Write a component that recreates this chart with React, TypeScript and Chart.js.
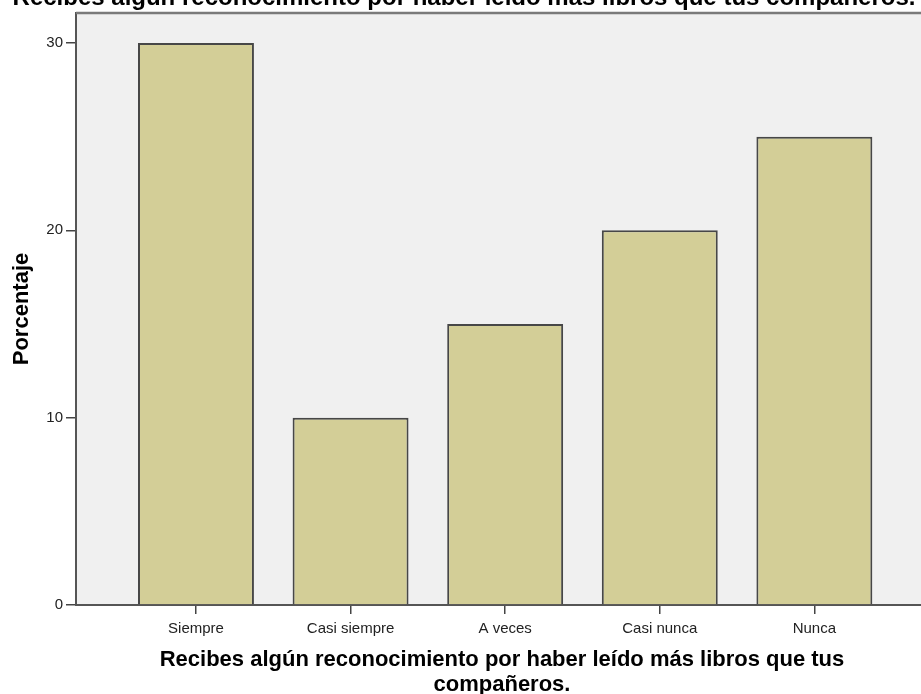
import React, { useEffect, useRef } from "react";
import { Chart, registerables } from "chart.js";

Chart.register(...registerables);

const categories: string[] = ["Siempre", "Casi siempre", "A veces", "Casi nunca", "Nunca"];
const percentages: number[] = [30, 10, 15, 20, 25];
const yTicks: number[] = [0, 10, 20, 30];
const chartTitle = "Recibes algún reconocimiento por haber leído más libros que tus compañeros.";
const xTitleLines: string[] = ["Recibes algún reconocimiento por haber leído más libros que tus", "compañeros."];
const yTitle = "Porcentaje";

const FONT = "'Liberation Sans', Arial, sans-serif";

const plotBg = {
  id: "plotBg",
  beforeDraw(chart: any) {
    const { ctx, chartArea } = chart;
    ctx.save();
    ctx.fillStyle = "#f0f0f0";
    ctx.fillRect(chartArea.left, chartArea.top, chartArea.right - chartArea.left, chartArea.bottom - chartArea.top);
    ctx.restore();
  },
  afterDraw(chart: any) {
    const { ctx, chartArea } = chart;
    ctx.save();
    ctx.strokeStyle = "#7a7a7a";
    ctx.lineWidth = 2.5;
    ctx.beginPath();
    ctx.moveTo(chartArea.left, chartArea.top);
    ctx.lineTo(chartArea.right, chartArea.top);
    ctx.stroke();
    ctx.restore();
  },
};

export default function App() {
  const ref = useRef<HTMLCanvasElement | null>(null);

  useEffect(() => {
    if (!ref.current) return;
    const chart = new Chart(ref.current, {
      type: "bar",
      data: {
        datasets: [
          {
            data: categories.map((c, i) => ({ x: i, y: percentages[i] })),
            backgroundColor: "#d3ce97",
            borderColor: "#474747",
            borderWidth: 2,
            barPercentage: 0.75,
            categoryPercentage: 1,
          },
        ],
      },
      options: {
        responsive: false,
        animation: false,
        devicePixelRatio: 1,
        layout: { padding: 0 },
        plugins: {
          legend: { display: false },
          tooltip: { enabled: false },
          title: {
            display: true,
            text: chartTitle,
            color: "#000",
            font: { family: FONT, size: 24, weight: "bold", lineHeight: 1.2 },
            padding: { top: -15.8, bottom: 0 },
          },
        },
        scales: {
          x: {
            type: "linear",
            offset: false,
            min: -0.776,
            max: 4.735,
            afterBuildTicks: (scale: any) => {
              scale.ticks = categories.map((_c, i) => ({ value: i }));
            },
            afterFit: (scale: any) => {
              scale.height = 89;
            },
            grid: {
              display: true,
              drawOnChartArea: false,
              drawTicks: true,
              tickLength: 9,
              color: "#444",
              lineWidth: 1.5,
              offset: false,
            },
            border: { display: true, color: "#555", width: 2 },
            ticks: {
              autoSkip: false,
              maxRotation: 0,
              padding: 6,
              color: "#222",
              font: { family: FONT, size: 15 },
              callback: (v: any) => categories[Number(v)] ?? "",
            },
            title: {
              display: true,
              text: xTitleLines,
              color: "#000",
              font: { family: FONT, size: 22, weight: "bold", lineHeight: "25px" },
              padding: { top: 0, bottom: -3.5 },
            },
          },
          y: {
            min: 0,
            max: 31.6,
            afterBuildTicks: (scale: any) => {
              scale.ticks = yTicks.map((v) => ({ value: v }));
            },
            afterFit: (scale: any) => {
              scale.width = 76;
            },
            grid: {
              display: true,
              drawOnChartArea: false,
              drawTicks: true,
              tickLength: 10,
              color: "#444",
              lineWidth: 1.5,
            },
            border: { display: true, color: "#555", width: 2 },
            ticks: {
              padding: 3,
              color: "#222",
              font: { family: FONT, size: 15 },
            },
            title: {
              display: true,
              text: yTitle,
              color: "#000",
              font: { family: FONT, size: 22, weight: "bold", lineHeight: 1.2 },
              padding: { top: 9, bottom: 0 },
            },
          },
        },
      } as any,
      plugins: [plotBg],
    });
    return () => chart.destroy();
  }, []);

  return (
    <div
      style={{
        position: "fixed",
        left: 0,
        top: 0,
        width: 921,
        height: 694,
        overflow: "hidden",
        background: "#ffffff",
      }}
    >
      <canvas ref={ref} width={928} height={694} style={{ display: "block", width: 928, height: 694 }} />
    </div>
  );
}
